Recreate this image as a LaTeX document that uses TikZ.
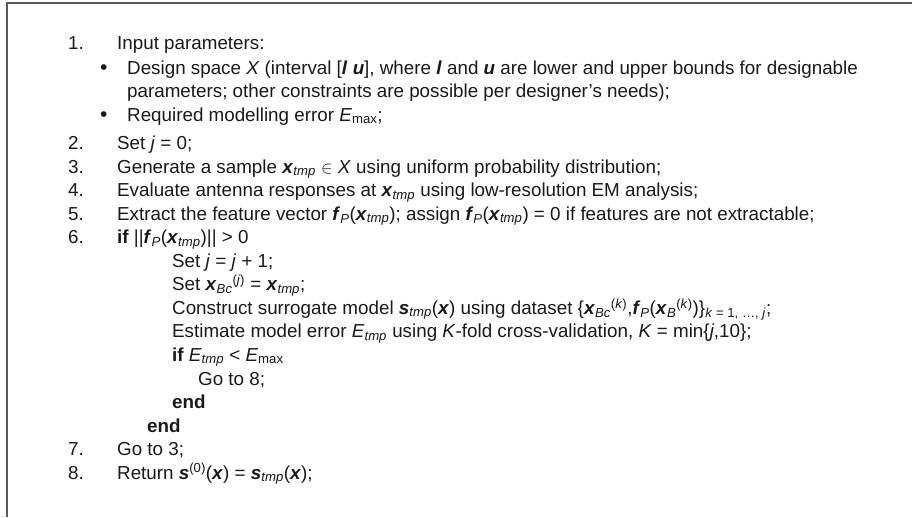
\documentclass[tikz,border=0pt]{standalone}
\usepackage{fontspec}
\setmainfont{Liberation Sans}
\newcommand\bi[1]{\textbf{\textit{#1}}}
\newcommand\sub[1]{\textsubscript{#1}}
\newcommand\xtmp{\bi{x}\sub{\textit{tmp}}}
\newcommand\fP{\bi{f}\sub{\textit{P}}}
\tikzset{
  ln/.style={anchor=base west, inner sep=0pt, font=\fontsize{18.8}{22}\selectfont, text=black!90},
  bul/.style={anchor=base west, inner sep=0pt, font=\fontsize{21}{22}\selectfont, text=black!90},
  frame/.style={draw=black!65, line width=1.3pt}
}
\begin{document}
\begin{tikzpicture}[x=1pt,y=1pt]
\useasboundingbox (0,0) rectangle (912,-517);
\draw[frame] (7,-517) -- (7,-3) -- (912,-3);
\node[ln] (n1) at (68,-49) {1.};
\node[ln] (t1) at (117,-49) {Input parameters:};
\node[bul] (b1) at (100,-74) {\textbullet};
\node[ln] (t1a) at (127,-74) {Design space \textit{X} (interval [\bi{l} \bi{u}], where \bi{l} and \bi{u} are lower and upper bounds for designable};
\node[ln] (t1b) at (127,-97.5) {parameters; other constraints are possible per designer’s needs);};
\node[bul] (b2) at (100,-121) {\textbullet};
\node[ln] (t1c) at (127,-121) {Required modelling error \textit{E}\sub{max};};
\node[ln] (n2) at (68,-149.5) {2.};
\node[ln] (t2) at (117,-149.5) {Set \textit{j} = 0;};
\node[ln] (n3) at (68,-173) {3.};
\node[ln] (t3) at (117,-173) {Generate a sample \xtmp{} $\in$ \textit{X} using uniform probability distribution;};
\node[ln] (n4) at (68,-196.6) {4.};
\node[ln] (t4) at (117,-196.6) {Evaluate antenna responses at \xtmp{} using low-resolution EM analysis;};
\node[ln] (n5) at (68,-220.1) {5.};
\node[ln] (t5) at (117,-220.1) {Extract the feature vector \fP(\xtmp); assign \fP(\xtmp) = 0 if features are not extractable;};
\node[ln] (n6) at (68,-243.7) {6.};
\node[ln] (t6) at (117,-243.7) {\textbf{if} ||\fP(\xtmp)|| > 0};
\node[ln] (s1) at (172,-267.2) {Set \textit{j} = \textit{j} + 1;};
\node[ln] (s2) at (172,-290.8) {Set \bi{x}\sub{\textit{Bc}}\textsuperscript{(\textit{j})} = \xtmp;};
\node[ln] (s3) at (172,-314.3) {Construct surrogate model \bi{s}\sub{\textit{tmp}}(\bi{x}) using dataset \{\bi{x}\sub{\textit{Bc}}\textsuperscript{(\textit{k})},\fP(\bi{x}\sub{\textit{B}}\textsuperscript{(\textit{k})})\}\sub{\textit{k} = 1, \ldots, \textit{j}};};
\node[ln] (s4) at (172,-337.9) {Estimate model error \textit{E}\sub{\textit{tmp}} using \textit{K}-fold cross-validation, \textit{K} = min\{\textit{j},10\};};
\node[ln] (s5) at (172,-361.4) {\textbf{if} \textit{E}\sub{\textit{tmp}} < \textit{E}\sub{max}};
\node[ln] (s6) at (198,-385) {Go to 8;};
\node[ln] (e1) at (172,-408.5) {\textbf{end}};
\node[ln] (e2) at (147,-432.1) {\textbf{end}};
\node[ln] (n7) at (68,-455.6) {7.};
\node[ln] (t7) at (117,-455.6) {Go to 3;};
\node[ln] (n8) at (68,-479.2) {8.};
\node[ln] (t8) at (117,-479.2) {Return \bi{s}\textsuperscript{(0)}(\bi{x}) = \bi{s}\sub{\textit{tmp}}(\bi{x});};
\end{tikzpicture}
\end{document}
